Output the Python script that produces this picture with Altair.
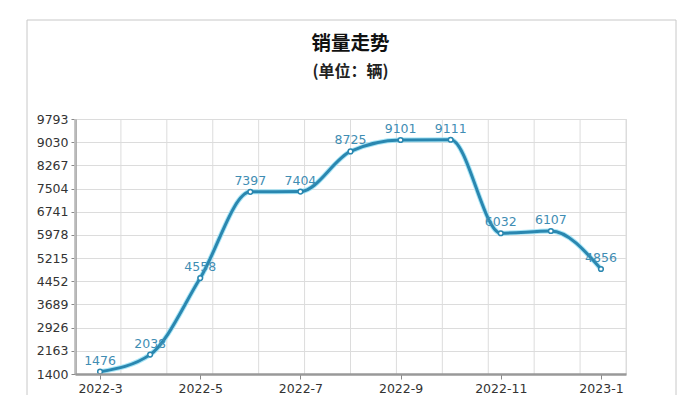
import altair as alt
import pandas as pd

title_text = "销量走势"
subtitle_text = "(单位：辆)"
months = ["2022-3", "2022-4", "2022-5", "2022-6", "2022-7", "2022-8",
          "2022-9", "2022-10", "2022-11", "2022-12", "2023-1"]
sales = [1476, 2038, 4558, 7397, 7404, 8725, 9101, 9111, 6032, 6107, 4856]
y_ticks = [1400, 2163, 2926, 3689, 4452, 5215, 5978, 6741, 7504, 8267, 9030, 9793]
x_tick_idx = [0, 2, 4, 6, 8, 10]

df = pd.DataFrame({"idx": list(range(len(months))), "month": months, "sales": sales})

n = len(months)
x_dom = [-0.5, n - 0.5]
grid_div = 12
grid_df = pd.DataFrame({"idx": [x_dom[0] + (x_dom[1] - x_dom[0]) * k / grid_div for k in range(grid_div + 1)]})

label_list = "[" + ",".join("'%s'" % m for m in months) + "]"

xscale = alt.Scale(domain=x_dom, nice=False, zero=False)
yscale = alt.Scale(domain=[y_ticks[0], y_ticks[-1]], nice=False, zero=False)

LINE = "#2a87b0"
LABEL = "#3f8db3"
W, H = 551, 255

x_axis = alt.Axis(values=x_tick_idx, grid=False,
                  labelExpr=label_list + "[datum.value]",
                  domainColor="#999999", domainWidth=2.5,
                  tickColor="#888888", tickSize=5, tickWidth=1,
                  labelFont="DejaVu Sans", labelFontSize=12.5,
                  labelColor="#333333", labelPadding=3, zindex=1)

frame = alt.Chart(pd.DataFrame({"t": [title_text]})).mark_rect(
    filled=False, stroke="#c8c8c8", strokeWidth=1).encode(
    x=alt.value(-48), x2=alt.value(601), y=alt.value(-99), y2=alt.value(420)
)

title_mark = alt.Chart(pd.DataFrame({"t": [title_text]})).mark_text(
    font="Noto Sans CJK SC", fontSize=19.5, fontWeight="bold", color="#111111",
    baseline="middle", align="center").encode(
    text="t:N", x=alt.value(W / 2), y=alt.value(-75))

subtitle_mark = alt.Chart(pd.DataFrame({"t": [subtitle_text]})).mark_text(
    font="Noto Sans CJK SC", fontSize=16, fontWeight="bold", color="#222222",
    baseline="middle", align="center").encode(
    text="t:N", x=alt.value(W / 2), y=alt.value(-47))

vgrid = alt.Chart(grid_df).mark_rule(color="#dcdcdc", strokeWidth=1).encode(
    x=alt.X("idx:Q", scale=xscale, title=None, axis=x_axis)
)

base = alt.Chart(df).encode(
    x=alt.X("idx:Q", scale=xscale, title=None, axis=x_axis),
    y=alt.Y("sales:Q", scale=yscale, title=None,
            axis=alt.Axis(values=y_ticks, grid=True, gridColor="#dcdcdc", format="d",
                          domainColor="#999999", domainWidth=2.5,
                          tickColor="#888888", tickSize=4,
                          labelFont="DejaVu Sans", labelFontSize=12.5,
                          labelColor="#333333", labelPadding=3)),
)

halo = base.mark_line(interpolate="monotone", color="#9fe2f5", strokeWidth=5, opacity=0.9)
line = base.mark_line(interpolate="monotone", color=LINE, strokeWidth=3)
pts = base.mark_point(shape="circle", filled=True, fill="white", stroke=LINE,
                      strokeWidth=1.5, size=22, opacity=1)
labels = base.mark_text(dy=-11, font="DejaVu Sans", fontSize=12.5, color=LABEL).encode(
    text=alt.Text("sales:Q", format="d")
)

chart = alt.layer(frame, title_mark, subtitle_mark, vgrid, halo, line, pts, labels).properties(
    width=W, height=H,
    padding={"left": 67, "top": 111, "right": 51, "bottom": 21},
    autosize=alt.AutoSizeParams(type="none"),
).configure_view(stroke=None).configure(background="white")

chart.save("out.html", embed_options={"renderer": "svg", "actions": False})
